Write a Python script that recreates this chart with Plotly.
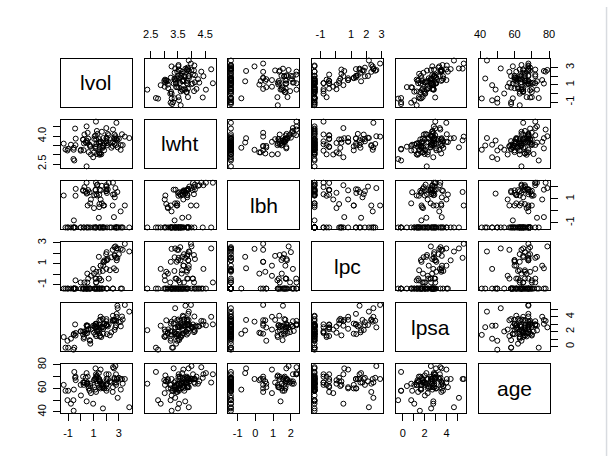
import plotly.graph_objects as go

# prostate data (row 32 lweight corrected)
lcavol = [-0.5798185, -0.9942523, -0.5108256, -1.2039728, 0.7514161, -1.0498221, 0.7371641, 0.6931472, -0.7765288, 0.2231436,
          0.2546422, -1.3470736, 1.6134299, 1.4770487, 1.2059708, 1.5411591, -0.4155154, 2.2884862, -0.5621189, 0.1823216,
          1.1474025, 2.0592388, -0.5447272, 1.7817091, 0.3852624, 1.4469190, 0.5128236, -0.4004776, 1.0402767, 2.4096442,
          0.2851789, 0.1823216, 1.2753628, 0.0099503, -0.0100503, 1.3083328, 1.4231083, 0.4574248, 2.6609586, 0.7975072,
          0.6205765, 1.4422020, 0.5822157, 1.7715568, 1.4861397, 1.6639261, 2.7278528, 1.1631508, 1.7457155, 1.2208299,
          1.0919233, 1.6601310, 0.5128236, 2.1270405, 3.1535904, 1.2669476, 0.9745596, 0.4637340, 0.5423243, 1.0612565,
          0.4574248, 1.9974177, 2.7757088, 2.0347056, 2.0731719, 1.4586150, 2.0228712, 2.1983351, -0.4462871, 1.1939225,
          1.8640801, 1.1600209, 1.2149127, 1.8389611, 2.9992262, 3.1411305, 2.0108950, 2.5376572, 2.6483002, 2.7794402,
          1.4678743, 2.5136561, 2.6130067, 2.6775910, 1.5623463, 3.3028493, 2.0241931, 1.7316555, 2.8075938, 1.5623463,
          3.2464910, 2.5329028, 2.8302678, 3.8210036, 2.9074474, 2.8825636, 3.4719665]

lweight = [2.769459, 3.319626, 2.691243, 3.282789, 3.432373, 3.228826, 3.473518, 3.539509, 3.539509, 3.244544,
           3.604138, 3.598681, 3.022861, 2.998229, 3.442019, 3.061052, 3.516013, 3.649359, 3.267666, 3.825375,
           3.419365, 3.501043, 3.375880, 3.451574, 3.667400, 3.124565, 3.719651, 3.865979, 3.128951, 3.375880,
           4.090169, 3.804438, 3.037354, 3.267666, 3.216874, 4.119850, 3.657131, 2.374906, 4.085136, 3.013081,
           3.141995, 3.682610, 3.865979, 3.896909, 3.409496, 3.392829, 3.995445, 4.035125, 3.498022, 3.568123,
           3.993603, 4.234831, 3.633631, 4.121473, 3.516013, 4.280132, 2.865054, 3.764682, 4.178226, 3.851211,
           4.524502, 3.719651, 3.524889, 3.917011, 3.623007, 3.836221, 3.878466, 4.050915, 4.408547, 4.780383,
           3.593194, 3.341093, 3.825375, 3.236716, 3.849083, 3.263849, 4.433789, 4.354784, 3.582129, 3.823192,
           3.070376, 3.473518, 3.888754, 3.838376, 3.709907, 3.518980, 3.731699, 3.369018, 4.718052, 3.695110,
           4.101817, 3.677566, 3.876396, 3.896909, 3.396185, 3.773910, 3.974998]

lbph = [-1.386294, -1.386294, -1.386294, -1.386294, -1.386294, -1.386294, 0.6151856, 1.5368672, -1.386294, -1.386294,
        -1.386294, 1.2669476, -1.386294, -1.386294, -1.386294, -1.386294, 1.2441546, -1.386294, -1.386294, 1.6582281,
        -1.386294, 1.4747630, -0.798508, 0.4382549, 1.5993876, 0.3001046, -1.386294, 1.8164521, 0.2231436, -1.386294,
        1.9629077, 1.7047481, 1.2669476, -1.386294, -1.386294, 2.1713368, -0.579819, -1.386294, 1.3737156, 0.9360934,
        -1.386294, -1.386294, 1.7137979, -1.386294, 1.7491998, 0.6151856, 1.8794650, 1.7137979, -1.386294, 1.3737156,
        -1.386294, 2.0731719, 1.4929041, 1.7664417, -1.386294, 2.1222615, -1.386294, 1.4231083, 0.4382549, 1.2947272,
        2.3263016, 1.6193882, -1.386294, 2.0082140, -1.386294, 1.3217558, 1.7837119, 2.3075726, -1.386294, 2.3263016,
        -1.386294, 1.7491998, -1.386294, 0.4382549, -1.386294, -0.051293, 2.1222615, 2.3263016, -1.386294, -1.386294,
        0.5596158, 0.4382549, -0.527633, 1.1151416, 1.6956156, -1.386294, 1.6389967, -1.386294, -1.386294, 0.9360934,
        -1.386294, 1.3480731, -1.386294, -1.386294, -1.386294, 1.5581446, 0.4382549]

lcp = [-1.386294, -1.386294, -1.386294, -1.386294, -1.386294, -1.386294, -1.386294, -1.386294, -1.386294, -1.386294,
       -1.386294, -1.386294, -0.597837, -1.386294, -0.430783, -1.386294, -0.597837, 0.371564, -1.386294, -1.386294,
       -1.386294, 1.348073, -1.386294, 1.178655, -1.386294, -1.386294, -0.798508, -1.386294, 0.048790, 1.619388,
       -0.798508, -1.386294, -1.386294, -1.386294, -0.798508, -1.386294, 1.658228, -1.386294, 1.832581, -0.162519,
       -1.386294, -1.386294, -0.430783, 0.810930, -0.430783, -1.386294, 2.656757, -0.430783, -1.386294, -0.798508,
       -1.386294, -1.386294, 0.048790, 1.446919, -1.386294, -1.386294, 0.500775, -1.386294, -1.386294, -1.386294,
       -1.386294, 1.909543, 1.558145, 2.110213, -1.386294, -0.430783, 1.321756, -0.430783, -1.386294, -0.798508,
       1.321756, -1.386294, 0.223144, 1.178655, 1.909543, 2.420368, 0.500775, -1.386294, 2.583998, 0.371564,
       0.223144, 2.327278, 0.558616, 1.749200, 0.810930, 2.327278, -1.386294, 0.300105, 2.463853, 0.810930,
       -1.386294, -1.386294, 1.321756, 2.169054, 2.463853, 1.558145, 2.904165]

lpsa = [-0.4307829, -0.1625189, -0.1625189, -0.1625189, 0.3715636, 0.7654678, 0.7654678, 0.8544153, 1.0473190, 1.0473190,
        1.2669476, 1.2669476, 1.2669476, 1.3480731, 1.3987169, 1.4469190, 1.4701758, 1.4929041, 1.5581446, 1.5993876,
        1.6389967, 1.6582281, 1.6956156, 1.7137979, 1.7316555, 1.7664417, 1.8000583, 1.8164521, 1.8484548, 1.8946169,
        1.9242487, 2.0082140, 2.0082140, 2.0215476, 2.0477671, 2.0856721, 2.1575593, 2.1916535, 2.2137539, 2.2772673,
        2.2975726, 2.3075726, 2.3272777, 2.3749058, 2.5217206, 2.5533438, 2.5687881, 2.5687881, 2.5915164, 2.5915164,
        2.6567569, 2.6775910, 2.6844403, 2.6912431, 2.7047113, 2.7180005, 2.7880929, 2.7942279, 2.8063861, 2.8124102,
        2.8419982, 2.8535925, 2.8535925, 2.8820035, 2.8820035, 2.8875901, 2.9204698, 2.9626924, 2.9626924, 2.9729753,
        3.0130809, 3.0373539, 3.0563569, 3.0750055, 3.2752562, 3.3375474, 3.3928291, 3.4355988, 3.4578927, 3.5130369,
        3.5160131, 3.5307626, 3.5652984, 3.5709402, 3.5876769, 3.6309855, 3.6800909, 3.7123518, 3.9843437, 3.9936030,
        4.0298060, 4.1295508, 4.3851468, 4.6844434, 5.1431245, 5.4775090, 5.5829322]

age = [50, 58, 74, 58, 62, 50, 64, 58, 47, 63,
       65, 63, 63, 67, 57, 66, 70, 66, 41, 70,
       59, 60, 59, 63, 69, 68, 65, 67, 67, 65,
       65, 65, 71, 54, 63, 64, 73, 64, 68, 56,
       60, 68, 62, 61, 66, 61, 79, 68, 43, 70,
       68, 64, 64, 68, 59, 66, 47, 49, 70, 61,
       73, 63, 72, 66, 64, 61, 68, 72, 69, 72,
       60, 77, 69, 60, 69, 68, 72, 78, 69, 63,
       66, 57, 77, 65, 60, 64, 58, 62, 65, 76,
       68, 61, 68, 44, 52, 68, 68]

var_names = ["lvol", "lwht", "lbh", "lpc", "lpsa", "age"]
variables = [lcavol, lweight, lbph, lcp, lpsa, age]

# tick values and the labels R kept on each outer side
tick_vals = [[-1, 0, 1, 2, 3],
             [2.5, 3.0, 3.5, 4.0, 4.5],
             [-1, 0, 1, 2],
             [-1, 0, 1, 2, 3],
             [0, 1, 2, 3, 4, 5],
             [40, 50, 60, 70, 80]]
x_tick_text = [["-1", "", "1", "", "3"],
               ["2.5", "", "3.5", "", "4.5"],
               ["-1", "0", "1", "2"],
               ["-1", "", "1", "2", "3"],
               ["0", "", "2", "", "4", ""],
               ["40", "", "60", "", "80"]]
y_tick_text = [["-1", "", "1", "", "3"],
               ["2.5", "", "", "4.0", ""],
               ["-1", "", "1", ""],
               ["-1", "", "1", "", "3"],
               ["0", "", "2", "", "4", ""],
               ["40", "", "60", "", "80"]]

W, H = 614, 460
n = len(variables)
left0, col_step, pw = 57, 85, 72
top0, row_step, ph = 53, 62.6, 49.5
font = "Liberation Sans, Arial, sans-serif"


def padded(v):
    lo, hi = min(v), max(v)
    r = hi - lo
    return [lo - 0.04 * r, hi + 0.04 * r]


ranges = [padded(v) for v in variables]

fig = go.Figure()
layout = {}
annotations = []

for i in range(n):
    for j in range(n):
        k = i * n + j + 1
        xname = "xaxis" if k == 1 else f"xaxis{k}"
        yname = "yaxis" if k == 1 else f"yaxis{k}"
        xref = "x" if k == 1 else f"x{k}"
        yref = "y" if k == 1 else f"y{k}"

        x0 = (left0 + col_step * j) / W
        x1 = (left0 + col_step * j + pw) / W
        y1 = 1 - (top0 + row_step * i) / H
        y0 = 1 - (top0 + row_step * i + ph) / H

        xax = dict(domain=[x0, x1], anchor=yref, showgrid=False, zeroline=False,
                   showline=True, mirror=True, linecolor="black", linewidth=1,
                   showticklabels=False, ticks="", fixedrange=True)
        yax = dict(domain=[y0, y1], anchor=xref, showgrid=False, zeroline=False,
                   showline=True, mirror=True, linecolor="black", linewidth=1,
                   showticklabels=False, ticks="", fixedrange=True)

        if i == j:
            xax["range"] = [0, 1]
            yax["range"] = [0, 1]
            annotations.append(dict(x=0.5, y=0.5, xref=xref, yref=yref, text=var_names[i],
                                    showarrow=False, font=dict(family=font, size=21, color="black")))
        else:
            xax["range"] = ranges[j]
            yax["range"] = ranges[i]
            fig.add_trace(go.Scatter(
                x=variables[j], y=variables[i], mode="markers",
                xaxis=xref, yaxis=yref, showlegend=False, hoverinfo="skip",
                cliponaxis=False,
                marker=dict(symbol="circle-open", size=5, color="black", line=dict(width=1, color="black"))
            ))

        tick_style = dict(ticks="outside", ticklen=7, tickwidth=1, tickcolor="black",
                          showticklabels=True, tickfont=dict(family=font, size=11, color="black"),
                          ticklabelstandoff=3)
        if i == 0 and j % 2 == 1:
            xax.update(tick_style, side="top", tickvals=tick_vals[j], ticktext=x_tick_text[j],
                       range=ranges[j], ticklabelstandoff=8)
        if i == n - 1 and j % 2 == 0:
            xax.update(tick_style, side="bottom", tickvals=tick_vals[j], ticktext=x_tick_text[j],
                       range=ranges[j])
        if j == 0 and i % 2 == 1:
            yax.update(tick_style, side="left", tickvals=tick_vals[i], ticktext=y_tick_text[i],
                       tickangle=-90, range=ranges[i])
        if j == n - 1 and i % 2 == 0:
            yax.update(tick_style, side="right", tickvals=tick_vals[i], ticktext=y_tick_text[i],
                       tickangle=-90, range=ranges[i])

        layout[xname] = xax
        layout[yname] = yax

fig.update_layout(**layout)
fig.update_layout(
    width=W, height=H,
    margin=dict(l=0, r=0, t=0, b=0),
    paper_bgcolor="white", plot_bgcolor="white",
    annotations=annotations,
    shapes=[dict(type="line", xref="paper", yref="paper", x0=611.5 / W, x1=611.5 / W, y0=0, y1=1,
                 line=dict(color="#d8dbe0", width=1.5))],
)

fig.write_html("out.html", config={"displayModeBar": False},
               post_script="document.body.style.margin='0';")
